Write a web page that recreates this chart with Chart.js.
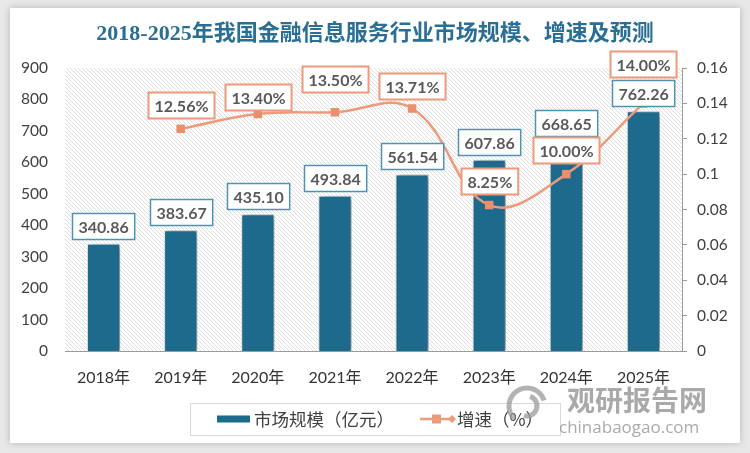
<!DOCTYPE html>
<html>
<head>
<meta charset="utf-8">
<script src="https://cdn.jsdelivr.net/npm/chart.js@4/dist/chart.umd.min.js"></script>
<style>
  html,body{margin:0;padding:0;background:#e8e8e8;width:750px;height:453px;overflow:hidden;}
  #card{position:absolute;left:10px;top:8px;width:730px;height:435px;background:#fff;box-shadow:0 0 7px rgba(0,0,0,0.22);}
  canvas{display:block;}
</style>
</head>
<body>
<div id="card"><canvas id="c" width="730" height="435"></canvas></div>
<script>
// ---------- data ----------
const titleText = '2018-2025年我国金融信息服务行业市场规模、增速及预测';
const categories = ['2018年','2019年','2020年','2021年','2022年','2023年','2024年','2025年'];
const marketSize = [340.86, 383.67, 435.10, 493.84, 561.54, 607.86, 668.65, 762.26];
const growthRate = [null, 0.1256, 0.1340, 0.1350, 0.1371, 0.0825, 0.1000, 0.1400];
const seriesNames = ['市场规模（亿元）', '增速（%）'];
const leftAxis = {min: 0, max: 900, step: 100};
const rightAxis = {min: 0, max: 0.16, step: 0.02};
const watermark = ['观研报告网', 'chinabaogao.com'];

// ---------- styles ----------
const BAR_COLOR = '#1d6a8d';
const LINE_COLOR = '#ec9a7b';
const BAR_LABEL_BORDER = '#4f93b3';
const LABEL_TEXT = '#595959';
const NUM_FONT = 'Lato, "Noto Sans CJK SC", sans-serif';

// hatch pattern for plot area
const tile = document.createElement('canvas');
tile.width = 4; tile.height = 4;
{
  const t = tile.getContext('2d');
  t.fillStyle = '#ffffff'; t.fillRect(0,0,4,4);
  t.strokeStyle = 'rgba(0,0,0,0.13)'; t.lineWidth = 1;
  t.beginPath(); t.moveTo(-1,-1); t.lineTo(5,5); t.stroke();
}

const bgPlugin = {
  id: 'bgHatch',
  beforeDraw(chart) {
    const {ctx, chartArea: a} = chart;
    ctx.save();
    ctx.fillStyle = ctx.createPattern(tile, 'repeat');
    ctx.fillRect(a.left, a.top, a.right - a.left, a.bottom - a.top);
    ctx.restore();
    // title
    ctx.save();
    ctx.font = 'bold 22px "Liberation Serif", "Noto Sans CJK SC", serif';
    ctx.fillStyle = '#2a6f93';
    ctx.textAlign = 'center';
    ctx.textBaseline = 'middle';
    ctx.fillText(titleText, chart.width / 2, 26);
    ctx.restore();
  }
};

const shadowPlugin = {
  id: 'barShadow',
  beforeDatasetDraw(chart, args) {
    if (args.index === 0) {
      const ctx = chart.ctx;
      ctx.save();
      ctx.shadowColor = 'rgba(0,0,0,0.45)';
      ctx.shadowBlur = 6;
      ctx.shadowOffsetX = 3;
      ctx.shadowOffsetY = 1;
    }
  },
  afterDatasetDraw(chart, args) {
    if (args.index === 0) chart.ctx.restore();
  }
};

function drawBox(ctx, text, cx, bottom, border, lw) {
  ctx.font = 'bold 16px ' + NUM_FONT;
  const w = ctx.measureText(text).width + 12;
  const h = 26;
  const x = Math.round(cx - w / 2) + 0.5, y = Math.round(bottom - h) + 0.5;
  ctx.fillStyle = '#ffffff';
  ctx.fillRect(x, y, w, h);
  ctx.strokeStyle = border;
  ctx.lineWidth = lw;
  ctx.strokeRect(x, y, w, h);
  ctx.fillStyle = LABEL_TEXT;
  ctx.textAlign = 'center';
  ctx.textBaseline = 'middle';
  ctx.fillText(text, x + w / 2, y + h / 2 + 1);
}

// label gaps above the line points (layout only)
const lineLabelGap = [0, 11, 4, 20, 10, 11, 11, 26];

const labelPlugin = {
  id: 'valueLabels',
  afterDatasetsDraw(chart) {
    const ctx = chart.ctx;
    ctx.save();
    const barMeta = chart.getDatasetMeta(0);
    barMeta.data.forEach((el, i) => {
      const v = chart.data.datasets[0].data[i];
      drawBox(ctx, v.toFixed(2), el.x, el.y - 5, BAR_LABEL_BORDER, 1.5);
    });
    const lineMeta = chart.getDatasetMeta(1);
    lineMeta.data.forEach((el, i) => {
      const v = chart.data.datasets[1].data[i];
      if (v === null || v === undefined) return;
      drawBox(ctx, (v * 100).toFixed(2) + '%', el.x, el.y - lineLabelGap[i], LINE_COLOR, 2);
    });
    ctx.restore();
  }
};

const legendPlugin = {
  id: 'boxLegend',
  afterDraw(chart) {
    const ctx = chart.ctx;
    ctx.save();
    // frame
    ctx.strokeStyle = '#d9d9d9';
    ctx.lineWidth = 1;
    ctx.strokeRect(180.5, 395.5, 370, 32);
    const cy = 411;
    ctx.font = '17.5px "Noto Sans CJK SC", sans-serif';
    ctx.fillStyle = '#404040';
    ctx.textBaseline = 'middle';
    ctx.textAlign = 'left';
    // bar swatch
    ctx.fillStyle = BAR_COLOR;
    ctx.fillRect(207, cy - 3.5, 33, 7);
    ctx.fillStyle = '#404040';
    ctx.fillText(chart.data.datasets[0].label, 244, cy);
    // line swatch
    ctx.strokeStyle = LINE_COLOR;
    ctx.lineWidth = 2.5;
    ctx.beginPath(); ctx.moveTo(410, cy); ctx.lineTo(442, cy); ctx.stroke();
    ctx.fillStyle = LINE_COLOR;
    ctx.fillRect(422, cy - 4.5, 9, 9);
    ctx.beginPath(); ctx.moveTo(442, cy - 4); ctx.lineTo(446, cy); ctx.lineTo(442, cy + 4); ctx.lineTo(438, cy); ctx.closePath(); ctx.fill();
    ctx.fillStyle = '#404040';
    ctx.fillText(chart.data.datasets[1].label, 447, cy);

    // watermark
    ctx.globalAlpha = 0.75;
    ctx.strokeStyle = '#9a9a9a';
    ctx.lineWidth = 5;
    ctx.beginPath(); ctx.arc(517, 398, 18, Math.PI * 0.75, Math.PI * 1.9); ctx.stroke();
    ctx.beginPath(); ctx.arc(517, 398, 10, Math.PI * 1.6, Math.PI * 0.6); ctx.stroke();
    ctx.fillStyle = '#8c8c8c';
    ctx.font = 'bold 28px "Noto Sans CJK SC", sans-serif';
    ctx.textAlign = 'left';
    ctx.textBaseline = 'middle';
    ctx.fillText(watermark[0], 557, 392);
    ctx.font = '17px "Open Sans", sans-serif';
    ctx.fillText(watermark[1], 549, 420);
    ctx.restore();
  }
};

const fmtRight = v => String(+Number(v).toFixed(2));

new Chart(document.getElementById('c'), {
  data: {
    labels: categories,
    datasets: [
      {
        type: 'bar',
        label: seriesNames[0],
        data: marketSize,
        yAxisID: 'y',
        backgroundColor: BAR_COLOR,
        borderColor: 'rgba(220,235,242,0.9)',
        borderWidth: 1,
        barPercentage: 0.43,
        categoryPercentage: 1,
        order: 2
      },
      {
        type: 'line',
        label: seriesNames[1],
        data: growthRate,
        yAxisID: 'y1',
        borderColor: LINE_COLOR,
        backgroundColor: '#e8906c',
        borderWidth: 2.5,
        tension: 0.4,
        pointStyle: 'rect',
        pointRadius: 6,
        pointBorderWidth: 0,
        spanGaps: false,
        order: 1
      }
    ]
  },
  options: {
    responsive: false,
    animation: false,
    devicePixelRatio: 1,
    layout: {padding: {top: 60, left: 0, right: 0, bottom: 0}},
    plugins: {legend: {display: false}, tooltip: {enabled: false}, title: {display: false}},
    scales: {
      x: {
        grid: {display: false, drawTicks: false},
        border: {display: true, color: '#9a9a9a', width: 1},
        ticks: {color: '#333333', font: {family: NUM_FONT, size: 16}, padding: 17, maxRotation: 0},
        afterFit(s) { s.height = 92; }
      },
      y: {
        position: 'left',
        min: leftAxis.min, max: leftAxis.max,
        grid: {display: false, drawTicks: false},
        border: {display: false},
        ticks: {stepSize: leftAxis.step, color: '#404040', font: {family: NUM_FONT, size: 15.5}, padding: 17},
        afterFit(s) { s.width = 55; }
      },
      y1: {
        position: 'right',
        min: rightAxis.min, max: rightAxis.max,
        grid: {drawOnChartArea: false, drawTicks: true, tickLength: 5, color: '#9a9a9a'},
        border: {display: true, color: '#9a9a9a', width: 1},
        ticks: {stepSize: rightAxis.step, color: '#404040', font: {family: NUM_FONT, size: 15.5}, padding: 10, callback: fmtRight},
        afterFit(s) { s.width = 58; }
      }
    }
  },
  plugins: [bgPlugin, shadowPlugin, labelPlugin, legendPlugin]
});
</script>
</body>
</html>
